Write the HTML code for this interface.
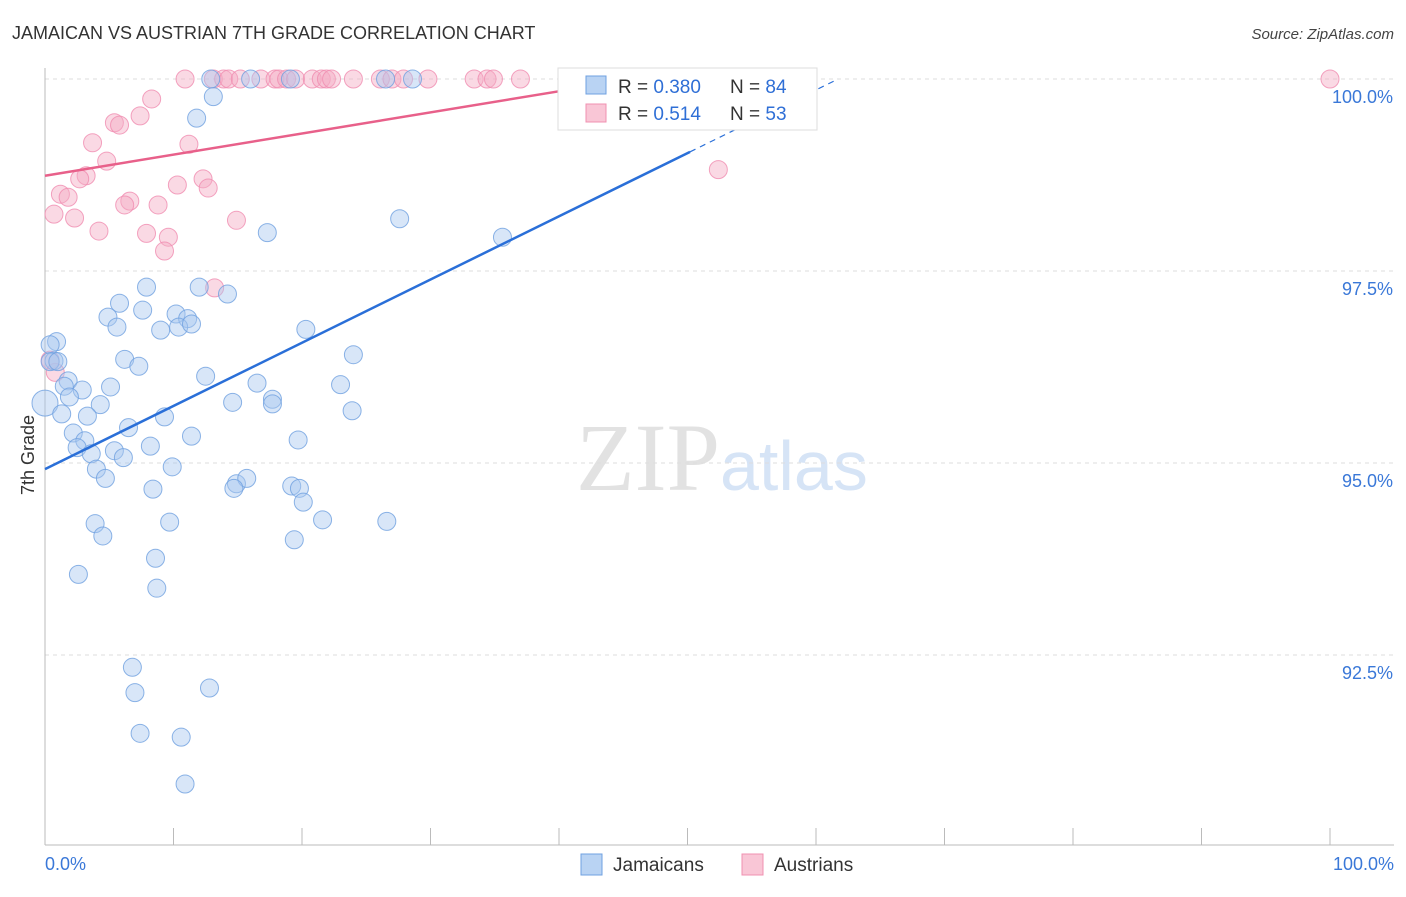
<!DOCTYPE html>
<html><head><meta charset="utf-8"><style>
body{margin:0;background:#fff;font-family:"Liberation Sans",sans-serif;}
</style></head><body>
<svg id="chart" width="1406" height="892" viewBox="0 0 1406 892">
<text x="12" y="39" font-size="18" fill="#333">JAMAICAN VS AUSTRIAN 7TH GRADE CORRELATION CHART</text>
<text x="1394" y="39" font-size="15" fill="#444" font-style="italic" text-anchor="end">Source: ZipAtlas.com</text>
<text x="720" y="490" font-size="96" fill="#e2e2e2" text-anchor="end" font-family="Liberation Serif,serif">ZIP</text>
<text x="720" y="490" font-size="70" fill="#d6e4f6">atlas</text>
<g id="grid"></g>
<g id="axes"></g>
<g id="pts"></g>
<g id="lines"></g>
<text transform="translate(34,455) rotate(-90)" font-size="18" fill="#333" text-anchor="middle">7th Grade</text>
<text x="45" y="870" font-size="18" fill="#3a78d8">0.0%</text>
<text x="1394" y="870" font-size="18" fill="#3a78d8" text-anchor="end">100.0%</text>
<g>
<rect x="558" y="68" width="259" height="62" fill="#fff" stroke="#ddd"/>
<rect x="586" y="76" width="20" height="18" fill="#b9d3f3" stroke="#6fa0e0"/>
<rect x="586" y="104" width="20" height="18" fill="#f9c6d6" stroke="#f090b0"/>
<text x="618" y="93" font-size="19" fill="#333">R = <tspan fill="#2f6fd6">0.380</tspan></text>
<text x="730" y="93" font-size="19" fill="#333">N = <tspan fill="#2f6fd6">84</tspan></text>
<text x="618" y="120" font-size="19" fill="#333">R = <tspan fill="#2f6fd6"> 0.514</tspan></text>
<text x="730" y="120" font-size="19" fill="#333">N = <tspan fill="#2f6fd6">53</tspan></text>
</g>
<g><rect x="581" y="854" width="21" height="21" fill="#b9d3f3" stroke="#6fa0e0"/><text x="613" y="871" font-size="19" fill="#333">Jamaicans</text></g>
<g><rect x="742" y="854" width="21" height="21" fill="#f9c6d6" stroke="#f090b0"/><text x="774" y="871" font-size="19" fill="#333">Austrians</text></g>
</svg>
<script>
const blueX=[12.9,16.0,19.1,26.5,28.6,45.4,13.1,11.8,27.6,17.3,35.6,7.9,12.0,14.2,5.8,7.6,4.9,10.2,11.1,5.6,9.0,10.4,11.4,20.3,0.9,0.4,0.7,6.2,7.3,24.0,1.8,1.5,2.9,5.1,1.9,12.5,16.5,23.0,0,4.3,1.3,3.3,14.6,17.7,17.7,9.3,23.9,2.2,6.5,11.4,19.7,3.1,2.5,5.4,8.2,3.6,6.1,9.9,4.0,4.7,14.9,15.7,14.7,8.4,19.2,19.8,20.1,3.9,9.7,21.6,26.6,4.5,19.4,8.6,2.6,8.7,6.8,7.0,12.8,7.4,10.6,10.9,0.4,1.0];
const blueY=[100,100,100,100,100,100,99.77,99.49,98.18,98.0,97.94,97.29,97.29,97.2,97.08,96.99,96.9,96.94,96.88,96.77,96.73,96.77,96.81,96.74,96.58,96.54,96.33,96.35,96.26,96.41,96.07,96.0,95.95,95.99,95.86,96.13,96.04,96.02,95.78,95.76,95.64,95.61,95.79,95.83,95.77,95.6,95.68,95.39,95.46,95.35,95.3,95.29,95.2,95.16,95.22,95.12,95.07,94.95,94.92,94.8,94.73,94.8,94.67,94.66,94.7,94.67,94.49,94.21,94.23,94.26,94.24,94.05,94.0,93.76,93.55,93.37,92.34,92.01,92.07,91.48,91.43,90.82,96.32,96.32];
const pinkX=[10.9,13.1,13.9,14.3,15.2,16.8,17.9,18.2,18.8,19.5,20.8,21.5,21.9,22.3,24.0,26.1,27.0,27.9,29.8,33.4,34.4,34.9,37.0,40.9,41.3,100,8.3,7.4,5.4,5.8,3.7,11.2,4.8,3.2,2.7,52.4,10.3,12.3,12.7,1.2,1.8,0.7,2.3,6.6,6.2,8.8,14.9,4.2,7.9,9.6,9.3,13.2,0.4,0.8];
const pinkY=[100,100,100,100,100,100,100,100,100,100,100,100,100,100,100,100,100,100,100,100,100,100,100,100,100,100,99.74,99.52,99.43,99.4,99.17,99.15,98.93,98.74,98.7,98.82,98.62,98.7,98.58,98.5,98.46,98.24,98.19,98.41,98.36,98.36,98.16,98.02,97.99,97.94,97.76,97.28,96.34,96.18];
const yTicks=[100,97.5,95,92.5];
const yTickLabels=["100.0%","97.5%","95.0%","92.5%"];
const blueLine=[94.92,0.0823];
const pinkLine=[98.74,0.0275];
const NS="http://www.w3.org/2000/svg";
const sx=v=>45+v*12.85, sy=v=>79+(100-v)*76.8;
function mk(tag,at,par){const e=document.createElementNS(NS,tag);for(const k in at)e.setAttribute(k,at[k]);document.getElementById(par).appendChild(e);return e;}
yTicks.forEach((t,i)=>{
 const g=mk('line',{x1:45,x2:1394,y1:sy(t),y2:sy(t),stroke:'#ddd','stroke-dasharray':'4,4'},'grid');
 
 
 const tx=mk('text',{x:1393,y:sy(t)+24,'font-size':18,fill:'#3a78d8','text-anchor':'end'},'grid');
 tx.textContent=yTickLabels[i];
 
 
});
const ax=mk('line',{x1:45,x2:45,y1:68,y2:845,stroke:'#bbb'},'axes');


const bx=mk('line',{x1:45,x2:1394,y1:845,y2:845,stroke:'#bbb'},'axes');


for(let i=0;i<=10;i++){const t=mk('line',{x1:sx(i*10),x2:sx(i*10),y1:828,y2:845,stroke:'#bbb'},'axes');
 
 }
function pts(X,Y,fill,stroke,name){X.forEach((x,i)=>{
 const big=(x===0);
 const c=mk('circle',{cx:sx(x),cy:sy(Y[i]),r:big?13:9,fill:fill,'fill-opacity':0.45,stroke:stroke,'stroke-opacity':0.8,'stroke-width':1},'pts');
 
 
});}
pts(pinkX,pinkY,'#f5aac4','#f08cb0','austrian-point');
pts(blueX,blueY,'#a8c8f0','#6fa0e0','jamaican-point');
const bEnd=50.2, bDash=(100-blueLine[0])/blueLine[1];
const l1=mk('line',{x1:sx(0),y1:sy(blueLine[0]),x2:sx(bEnd),y2:sy(blueLine[0]+blueLine[1]*bEnd),stroke:'#2a6fd8','stroke-width':2.5},'lines');


const l2=mk('line',{x1:sx(bEnd),y1:sy(blueLine[0]+blueLine[1]*bEnd),x2:sx(bDash),y2:sy(100),stroke:'#2a6fd8','stroke-width':1.2,'stroke-dasharray':'6,5'},'lines');


const pEnd=42;
const l3=mk('line',{x1:sx(0),y1:sy(pinkLine[0]),x2:sx(pEnd),y2:sy(pinkLine[0]+pinkLine[1]*pEnd),stroke:'#e8608a','stroke-width':2.5},'lines');


</script>
</body></html>
